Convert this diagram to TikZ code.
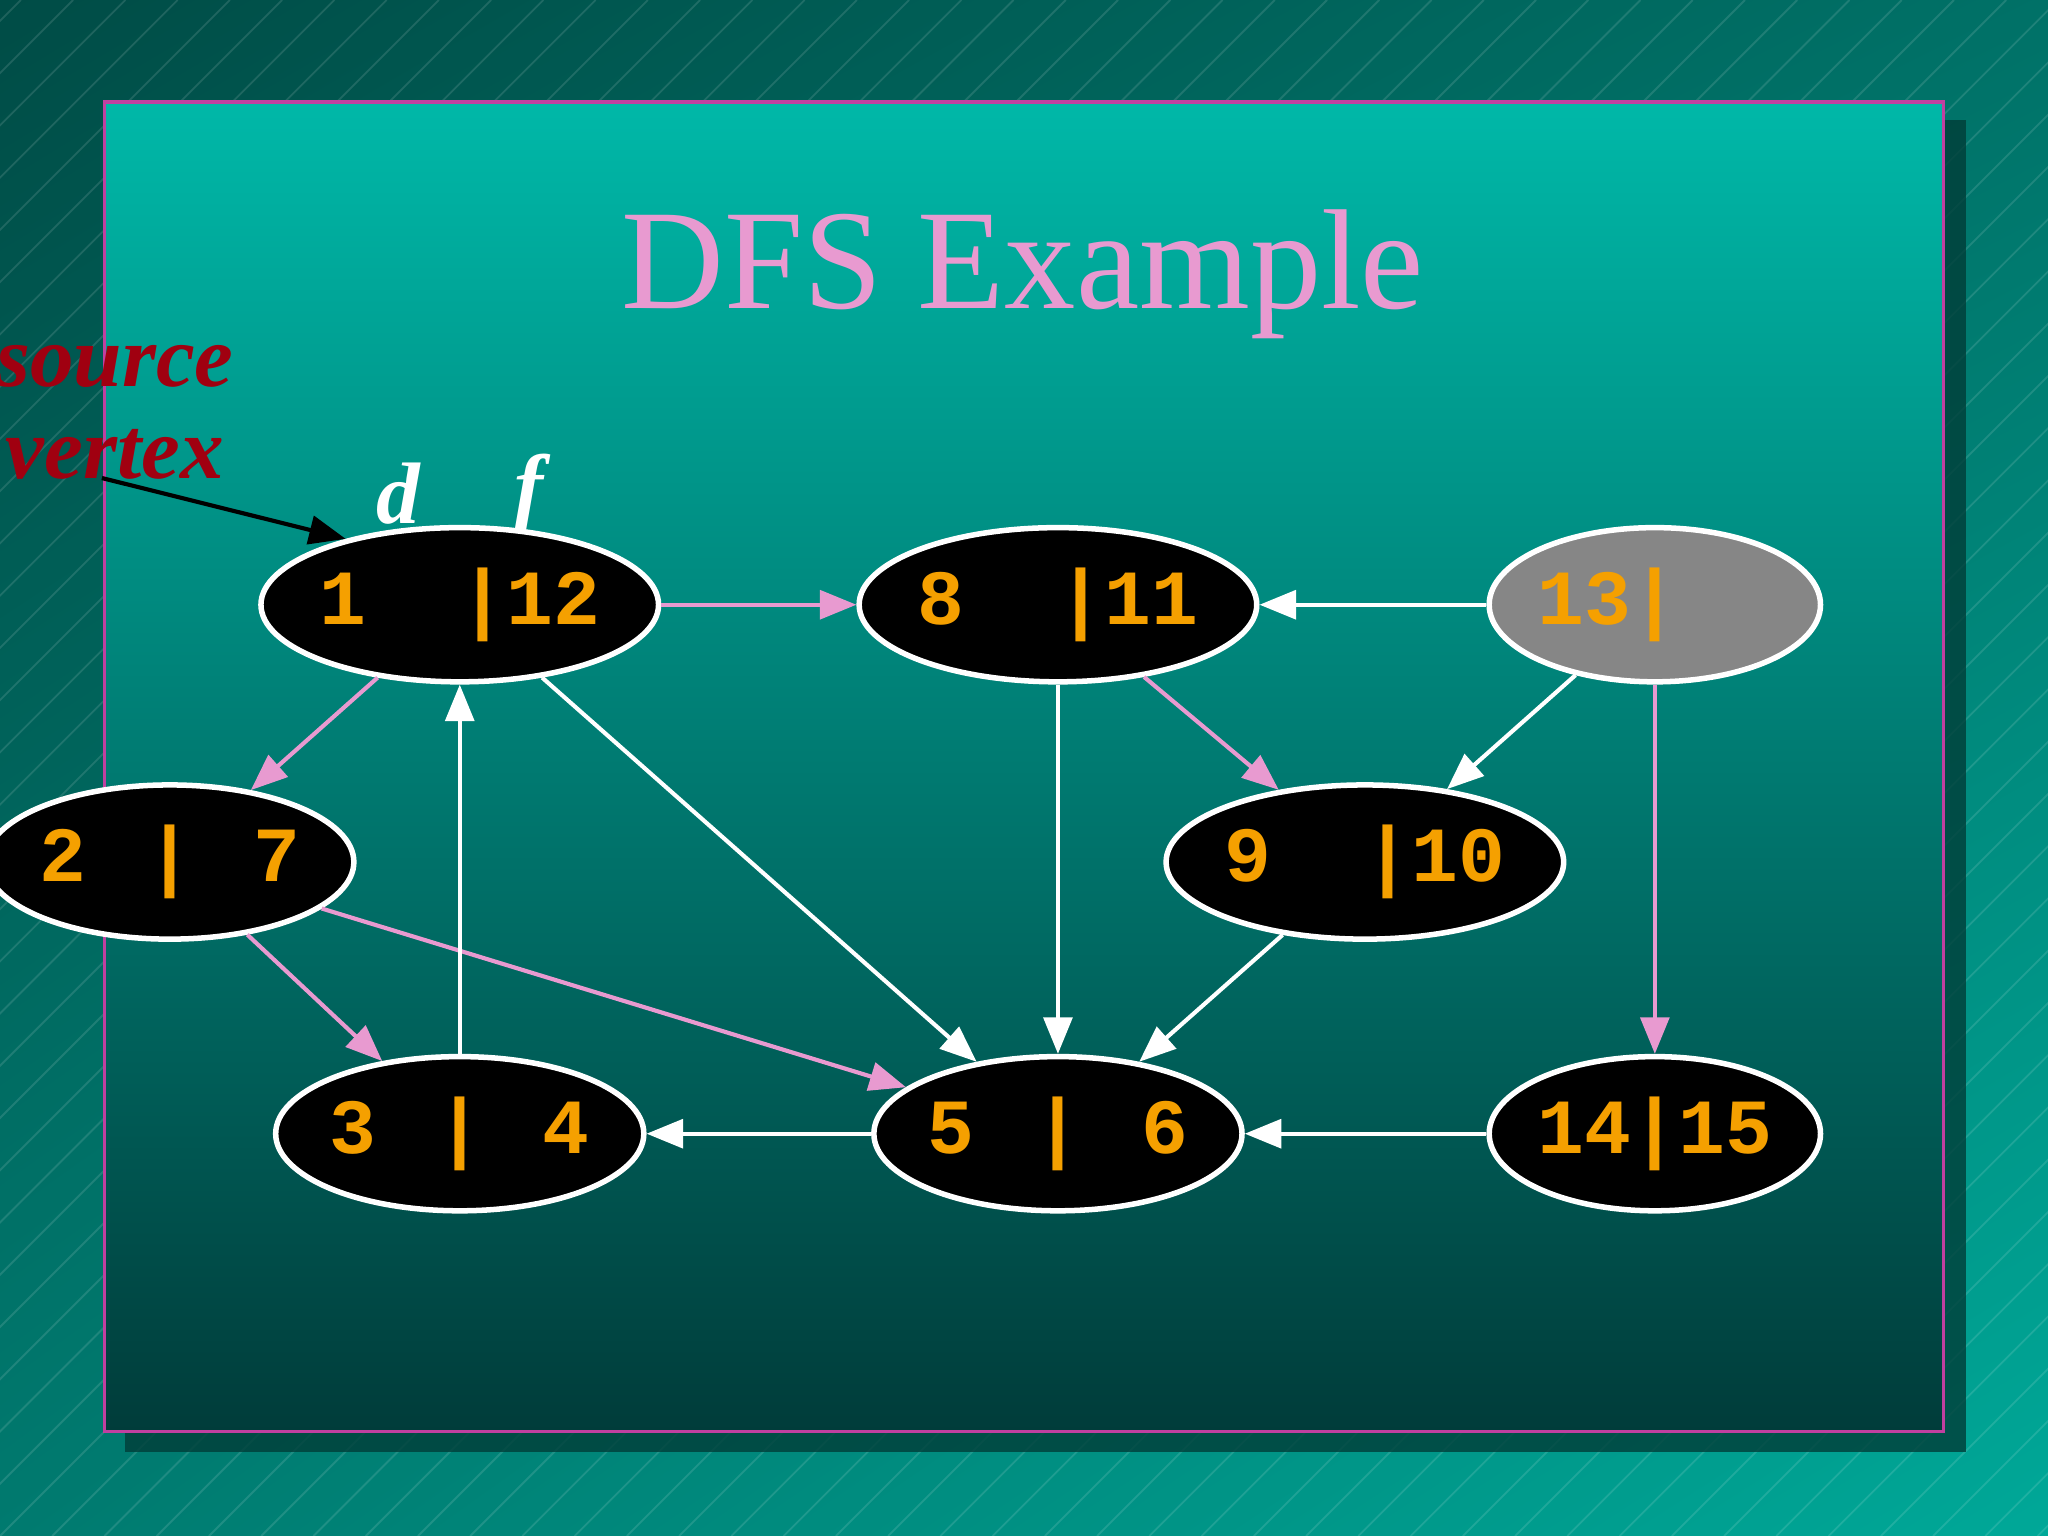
\documentclass[tikz,border=0pt]{standalone}
\usepackage{fontspec}
\setmainfont{Liberation Serif}
\newfontfamily\monob{Liberation Mono}
\usetikzlibrary{arrows.meta,shapes.geometric,shadings}
\definecolor{bgA}{HTML}{004C46}
\definecolor{bgB}{HTML}{00A898}
\definecolor{panT}{HTML}{00B8A8}
\definecolor{panB}{HTML}{003C3A}
\definecolor{pinkc}{HTML}{E89AD0}
\definecolor{orng}{HTML}{F5A000}
\definecolor{srcred}{HTML}{A00010}
\definecolor{magb}{HTML}{C040A0}
\tikzset{
 vtx/.style={ellipse,draw=white,line width=1.2pt,fill=black,minimum width=1.84cm,minimum height=1.18cm,inner sep=0pt,text=orng,font=\monob\bfseries\fontsize{17}{20}\selectfont},
 wedge/.style={draw=white,line width=0.9pt,-{Triangle[length=2.8mm,width=2.2mm]}},
 pedge/.style={draw=pinkc,line width=0.9pt,-{Triangle[length=2.8mm,width=2.2mm]}},
}
\begin{document}
\begin{tikzpicture}[x=0.01cm,y=-0.01cm]
\useasboundingbox (0,0) rectangle (1568,1176);
\shade[upper left=bgA,upper right=bgA!60!bgB,lower left=bgA!50!bgB,lower right=bgB] (0,0) rectangle (1568,1176);
\begin{scope}
\clip (0,0) rectangle (1568,1176);
\foreach \i in {-1200,-1160,...,1600}
  \draw[white,opacity=0.12,line width=0.4pt] (\i,1176) -- ++(1176,-1176);
\end{scope}
\fill[bgA!80!black,opacity=0.8] (96,92) rectangle (1505,1112);
\shade[top color=panT,bottom color=panB] (80,78) rectangle (1488,1096);
\draw[magb,line width=0.8pt] (80,78) rectangle (1488,1096);
\node[text=pinkc,font=\fontsize{31}{36}\selectfont] (title) at (783,210) {DFS Example};
\node[text=srcred,font=\bfseries\itshape\fontsize{19}{22}\selectfont,align=center] (src) at (88,316) {source\\[-2pt]vertex};
\node[text=white,font=\bfseries\itshape\fontsize{19}{22}\selectfont] (dl) at (305,378) {d};
\node[text=white,font=\bfseries\itshape\fontsize{19}{22}\selectfont] (fl) at (405,378) {f};
\node[vtx] (a) at (352,463) {1 \ |12};
\node[vtx] (b) at (810,463) {8 \ |11};
\node[vtx,fill=gray!95] (c) at (1267,463) {13|\phantom{15}};
\node[vtx] (d) at (130,660) {2 \,|\, 7};
\node[vtx] (e) at (1045,660) {9 \ |10};
\node[vtx] (f) at (352,868) {3 \,|\, 4};
\node[vtx] (g) at (810,868) {5 \,|\, 6};
\node[vtx] (h) at (1267,868) {14|15};
\coordinate (s0) at (78,366);
\draw[black,line width=0.9pt,-{Triangle[length=2.8mm,width=2.2mm]}] (s0) -- (a.150);
\draw[pedge] (a) -- (b);
\draw[wedge] (c) -- (b);
\draw[wedge] (c) -- (e);
\draw[pedge] (c) -- (h);
\draw[pedge] (b) -- (e);
\draw[wedge] (b) -- (g);
\draw[wedge] (e) -- (g);
\draw[pedge] (a) -- (d);
\draw[wedge] (a) -- (g);
\draw[pedge] (d) -- (f);
\draw[pedge] (d) -- (g);
\draw[wedge] (f) -- (a);
\draw[wedge] (g) -- (f);
\draw[wedge] (h) -- (g);
\end{tikzpicture}
\end{document}
